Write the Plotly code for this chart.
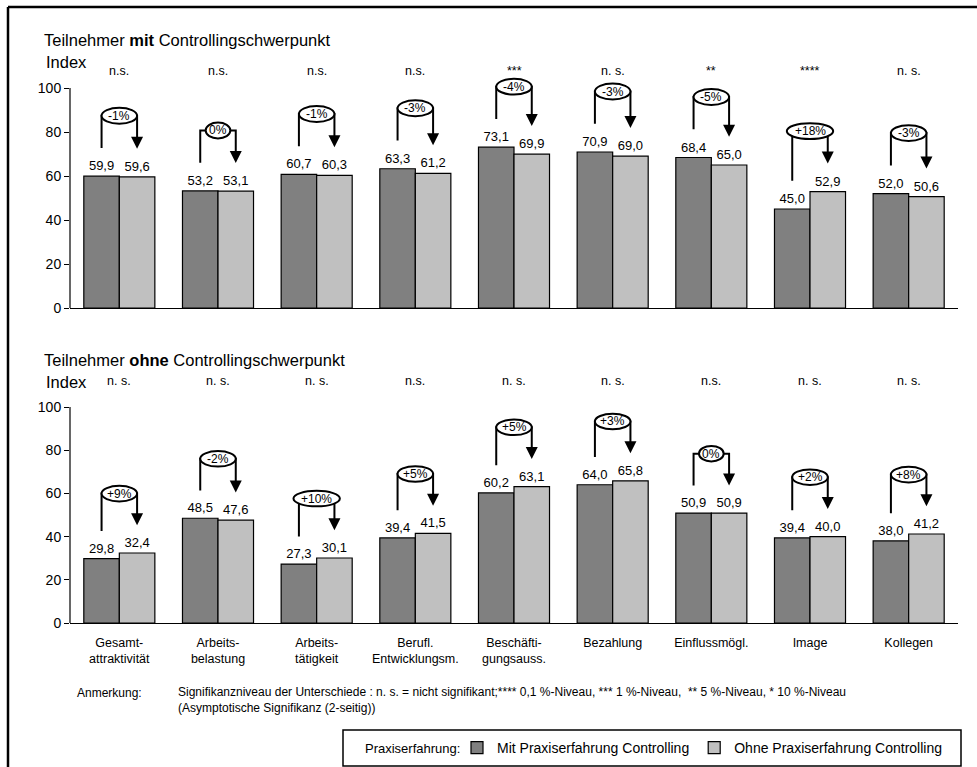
import plotly.graph_objects as go

W = 977
H = 767

categories = ["Gesamt-<br>attraktivität", "Arbeits-<br>belastung", "Arbeits-<br>tätigkeit",
              "Berufl.<br>Entwicklungsm.", "Beschäfti-<br>gungsauss.", "Bezahlung",
              "Einflussmögl.", "Image", "Kollegen"]

mit_top = [59.9, 53.2, 60.7, 63.3, 73.1, 70.9, 68.4, 45.0, 52.0]
ohne_top = [59.6, 53.1, 60.3, 61.2, 69.9, 69.0, 65.0, 52.9, 50.6]
change_top = ["-1%", "0%", "-1%", "-3%", "-4%", "-3%", "-5%", "+18%", "-3%"]
sig_top = ["n.s.", "n.s.", "n.s.", "n.s.", "***", "n. s.", "**", "****", "n. s."]

mit_bottom = [29.8, 48.5, 27.3, 39.4, 60.2, 64.0, 50.9, 39.4, 38.0]
ohne_bottom = [32.4, 47.6, 30.1, 41.5, 63.1, 65.8, 50.9, 40.0, 41.2]
change_bottom = ["+9%", "-2%", "+10%", "+5%", "+5%", "+3%", "0%", "+2%", "+8%"]
sig_bottom = ["n. s.", "n. s.", "n. s.", "n.s.", "n. s.", "n. s.", "n.s.", "n. s.", "n. s."]

xpos = list(range(len(categories)))

DARK = "#808080"
LIGHT = "#c0c0c0"
FONT = "Liberation Sans, Arial, sans-serif"

BARGAP = 0.28
OFF = (1 - BARGAP) / 4  # offset of bar centre from group centre


def px(x):
    return x / W


def py(y):
    return 1 - y / H


fig = go.Figure()

for mit, ohne, ax, ay, show in [(mit_top, ohne_top, "x", "y", True),
                                (mit_bottom, ohne_bottom, "x2", "y2", False)]:
    fig.add_trace(go.Bar(x=xpos, y=mit, name="Mit Praxiserfahrung Controlling",
                         marker=dict(color=DARK, line=dict(color="black", width=1.2)),
                         texttemplate="%{y:.1f}", textposition="outside", cliponaxis=False,
                         textfont=dict(size=13, color="black"),
                         xaxis=ax, yaxis=ay, showlegend=show, legendgroup="mit"))
    fig.add_trace(go.Bar(x=xpos, y=ohne, name="Ohne Praxiserfahrung Controlling",
                         marker=dict(color=LIGHT, line=dict(color="black", width=1.2)),
                         texttemplate="%{y:.1f}", textposition="outside", cliponaxis=False,
                         textfont=dict(size=13, color="black"),
                         xaxis=ax, yaxis=ay, showlegend=show, legendgroup="ohne"))

shapes = []
annotations = []

# y axis lines only from 0 to 100
for yr in ["y", "y2"]:
    xr = "x domain" if yr == "y" else "x2 domain"
    shapes.append(dict(type="line", xref=xr, yref=yr, x0=0, x1=0, y0=0, y1=100,
                       line=dict(color="black", width=1.2)))

# change arrows with ellipses
for mit, ohne, chg, xr, yr in [(mit_top, ohne_top, change_top, "x", "y"),
                               (mit_bottom, ohne_bottom, change_bottom, "x2", "y2")]:
    for i in xpos:
        xl, xrr = i - OFF, i + OFF
        cy = max(mit[i], ohne[i]) + 27.5
        y_start = mit[i] + 12.8
        y_tip = ohne[i] + 12.8
        shapes.append(dict(type="path", xref=xr, yref=yr,
                           path=f"M {xl},{y_start} L {xl},{cy} L {xrr},{cy} L {xrr},{y_tip + 3}",
                           line=dict(color="black", width=2)))
        half = (0.11 * len(chg[i]) + 0.03) / 2
        shapes.append(dict(type="circle", xref=xr, yref=yr,
                           x0=i - half, x1=i + half, y0=cy - 3.6, y1=cy + 3.6,
                           fillcolor="white", line=dict(color="black", width=2)))
        annotations.append(dict(x=i, y=cy, xref=xr, yref=yr, text=chg[i], showarrow=False,
                                font=dict(size=12, color="black")))
        annotations.append(dict(x=xrr, y=y_tip, xref=xr, yref=yr, ax=xrr, ay=y_tip + 5,
                                axref=xr, ayref=yr, text="", showarrow=True,
                                arrowhead=2, arrowsize=1.2, arrowwidth=2, arrowcolor="black",
                                standoff=0))

# significance labels
for sig, ycen in [(sig_top, 62), (sig_bottom, 381)]:
    for i in xpos:
        annotations.append(dict(x=i, y=py(ycen), xref="x", yref="paper", text=sig[i],
                                showarrow=False, font=dict(size=12.5, color="black")))

annotations += [
    dict(x=px(42), y=py(40), text="Teilnehmer <b>mit</b> Controllingschwerpunkt"),
    dict(x=px(44), y=py(62), text="Index"),
    dict(x=px(42), y=py(360), text="Teilnehmer <b>ohne</b> Controllingschwerpunkt"),
    dict(x=px(44), y=py(382), text="Index"),
    dict(x=px(75), y=py(693), text="Anmerkung:", font=dict(size=12, color="black")),
    dict(x=px(176), y=py(700), align="left", font=dict(size=12, color="black"),
         text="Signifikanzniveau der Unterschiede : n. s. = nicht signifikant;**** 0,1 %-Niveau, "
              "*** 1 %-Niveau,  ** 5 %-Niveau, * 10 %-Niveau<br>(Asymptotische Signifikanz (2-seitig))"),
    dict(x=px(363), y=py(748), text="Praxiserfahrung:", font=dict(size=13, color="black")),
]
for a in annotations[-7:]:
    a.setdefault("font", dict(size=16.5, color="black"))
    a.update(xref="paper", yref="paper", xanchor="left", yanchor="middle", showarrow=False)

# outer frame and legend box
shapes += [
    dict(type="line", xref="paper", yref="paper", x0=px(8), x1=1, y0=py(7), y1=py(7),
         line=dict(color="black", width=2.5)),
    dict(type="line", xref="paper", yref="paper", x0=px(8), x1=px(8), y0=py(7), y1=0,
         line=dict(color="black", width=2.5)),
    dict(type="rect", xref="paper", yref="paper", x0=px(343), x1=px(961), y0=py(766), y1=py(730),
         line=dict(color="black", width=1.5)),
]

xax = dict(range=[-0.5, 8.5], showline=True, linecolor="black", linewidth=1.2,
           showgrid=False, zeroline=False, ticks="", domain=[px(70), px(958)],
           tickvals=xpos, ticktext=categories, tickfont=dict(size=12.5, color="black"),
           automargin=False)
yax = dict(tickvals=[0, 20, 40, 60, 80, 100], showline=False, automargin=False,
           ticks="outside", ticklen=5, tickcolor="black", tickwidth=1.2, showgrid=False,
           zeroline=False, tickfont=dict(size=14, color="black"))

fig.update_layout(
    width=W, height=H, autosize=False,
    margin=dict(l=0, r=0, t=0, b=0, pad=0, autoexpand=False),
    paper_bgcolor="white", plot_bgcolor="white",
    font=dict(family=FONT, color="black"),
    separators=",.",
    barmode="group", bargap=BARGAP, bargroupgap=0,
    xaxis=dict(xax, anchor="y", showticklabels=False),
    yaxis=dict(yax, anchor="x", range=[0, 108], domain=[py(308), py(308 - 108 * 2.2)]),
    xaxis2=dict(xax, anchor="y2", ticklabelstandoff=8),
    yaxis2=dict(yax, anchor="x2", range=[0, 100], domain=[py(623), py(407)]),
    shapes=shapes,
    annotations=annotations,
    legend=dict(orientation="h", x=px(947), xanchor="right", y=py(748), yanchor="middle",
                font=dict(size=14, color="black"), bgcolor="rgba(0,0,0,0)",
                itemwidth=30, traceorder="normal"),
)

fig.write_html("out.html", config={"displayModeBar": False},
               post_script="document.body.style.margin='0';")
